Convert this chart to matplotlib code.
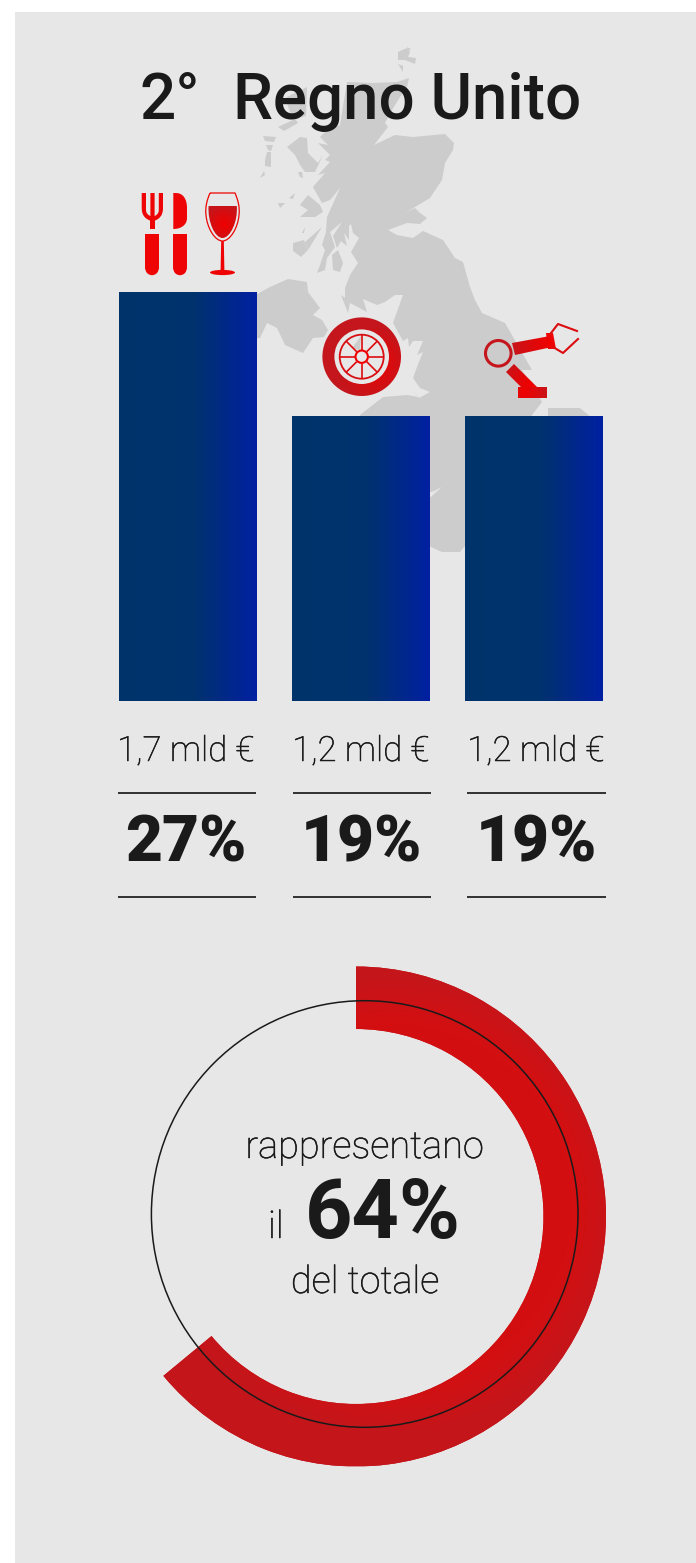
import numpy as np
import matplotlib
matplotlib.use('Agg')
import matplotlib.pyplot as plt
import matplotlib.patheffects as pe
from matplotlib.colors import LinearSegmentedColormap
from matplotlib.patches import Circle, Ellipse, PathPatch, Polygon, Rectangle, Wedge
from matplotlib.path import Path

plt.rcParams['font.family'] = ['Roboto', 'DejaVu Sans']

# data
bar_values = [1.70, 1.185, 1.185]
value_labels = ['1,7 mld €', '1,2 mld €', '1,2 mld €']
share_labels = ['27%', '19%', '19%']
donut_values = [64, 36]

W, H = 696, 1563
BG = '#e7e7e7'
INK = '#1a1a1a'
MAP = '#cccccc'
RED = '#ee0404'
DARK = '#c4161c'

blue = LinearSegmentedColormap.from_list('blue', [(0, '#00346a'), (0.55, '#00326e'), (1, '#0020a2')])
donut_red = LinearSegmentedColormap.from_list('dred', ['#d40f11', '#c4161b'])
icon_red = LinearSegmentedColormap.from_list('ired', ['#f00000', '#c4161c'])

fig = plt.figure(figsize=(W / 100, H / 100), dpi=100, facecolor='white')


def px_axes(x0, y0, x1, y1, z):
    a = fig.add_axes([x0 / W, 1 - y1 / H, (x1 - x0) / W, (y1 - y0) / H], zorder=z)
    a.axis('off')
    return a


back = px_axes(0, 0, W, H, 0)
back.set_xlim(0, W)
back.set_ylim(H, 0)
back.add_patch(Rectangle((15, 12), W - 15, H - 12, color=BG, lw=0))

# map of Great Britain, traced
main_land = [(347, 82), (373, 83), (397, 82), (409, 78), (407, 87), (400, 97), (392, 110), (385, 123), (388, 127),
             (374, 145), (395, 135), (413, 137), (445, 134), (454, 143), (453, 150), (445, 163), (442, 180),
             (430, 198), (405, 213), (415, 208), (420, 213), (427, 218), (420, 224), (407, 223), (388, 230),
             (397, 235), (413, 238), (423, 231), (443, 240), (455, 258), (463, 262), (470, 287), (475, 300),
             (482, 313), (505, 323), (532, 370), (522, 370), (542, 402), (532, 415), (540, 500), (464, 547),
             (460, 552), (442, 552), (429, 546), (400, 530), (360, 415), (383, 397), (407, 395), (418, 397),
             (412, 388), (419, 398), (430, 392), (420, 388), (413, 378), (417, 367), (423, 352), (417, 355),
             (423, 341), (413, 341), (409, 347), (408, 338), (403, 341), (393, 323), (403, 295), (415, 295),
             (395, 295), (385, 302), (377, 305), (363, 299), (367, 312), (350, 303), (348, 313), (341, 295),
             (345, 298), (345, 288), (350, 275), (358, 263), (351, 252), (359, 238), (353, 233), (351, 224),
             (349, 226), (349, 240), (344, 233), (347, 246), (341, 241), (337, 248), (333, 236), (342, 222),
             (330, 232), (335, 247), (327, 258), (325, 270), (317, 273), (320, 265), (325, 250), (322, 245),
             (326, 232), (327, 217), (340, 188), (330, 200), (322, 203), (313, 187), (325, 173), (318, 175),
             (330, 162), (325, 160), (330, 155), (318, 143), (328, 145), (320, 137), (327, 130), (340, 125)]
islands = [
    [(548, 408), (580, 408), (592, 418), (592, 440), (548, 440)],
    [(285, 98), (307, 87), (306, 116), (293, 120), (278, 127), (284, 131), (298, 123), (290, 112)],
    [(263, 136), (276, 137), (274, 142), (265, 141)],
    [(266, 145), (273, 145), (271, 151), (268, 150)],
    [(267, 152), (271, 152), (271, 167), (265, 166), (265, 160)],
    [(264, 171), (265, 175), (260, 178)],
    [(398, 52), (407, 48), (410, 52), (408, 57), (416, 58), (415, 64), (405, 60), (398, 60)],
    [(398, 64), (403, 66), (403, 72)],
    [(407, 47), (411, 49), (408, 51)],
    [(287, 147), (300, 137), (307, 138), (308, 153), (318, 163), (323, 155), (315, 172), (305, 172), (300, 165),
     (295, 155)],
    [(298, 172), (302, 172), (303, 178), (300, 177)],
    [(300, 217), (308, 210), (300, 205), (308, 195), (320, 205), (323, 212), (315, 217)],
    [(278, 203), (285, 203), (280, 208)],
    [(289, 198), (295, 193), (293, 199)],
    [(293, 243), (304, 240), (308, 250), (301, 257), (293, 251)],
    [(305, 242), (322, 227), (308, 250)],
    [(302, 233), (305, 227), (304, 233)],
    [(332, 255), (338, 250), (343, 263), (340, 272), (333, 270)],
    [(250, 298), (270, 287), (288, 279), (307, 282), (308, 292), (320, 308), (313, 315), (322, 320), (328, 330),
     (324, 337), (313, 338), (303, 353), (285, 345), (277, 328), (267, 323), (260, 338), (250, 338)],
    [(361, 336), (360, 350), (352, 348)],
]
back.add_patch(Polygon(main_land, closed=True, color=MAP, lw=0))
for isl in islands:
    back.add_patch(Polygon(isl, closed=True, color=MAP, lw=0))
back.add_patch(Polygon([(425, 502), (442, 487), (434, 491), (425, 494)], closed=True, color=BG, lw=0))

# bars
ax = px_axes(100.9, 292, 619.9, 701, 1)
rects = ax.bar(range(len(bar_values)), bar_values, width=137.2 / 173, color='#00346a', zorder=1)
grad = np.linspace(0, 1, 256).reshape(1, -1)
for r in rects:
    im = ax.imshow(grad, cmap=blue, aspect='auto', vmin=0, vmax=1, zorder=2,
                   extent=(r.get_x(), r.get_x() + r.get_width(), 0, r.get_height()))
    im.set_clip_path(r)
ax.set_xlim(-0.5, 2.5)
ax.set_ylim(0, 1.7)

# donut
dax = px_axes(106, 966.5, 606, 1466.5, 1)
wedges, _ = dax.pie(donut_values, startangle=90, counterclock=False, radius=1,
                    colors=[DARK, 'none'], wedgeprops={'width': 0.25, 'linewidth': 0})
xx, yy = np.meshgrid(np.linspace(-1, 1, 500), np.linspace(1, -1, 500))
dist = np.hypot(xx - 0.15, yy - 0.05)
im = dax.imshow(np.clip((dist - 0.72) / 0.2, 0, 1), cmap=donut_red, extent=(-1, 1, -1, 1), aspect='auto',
                vmin=0, vmax=1, zorder=5)
im.set_clip_path(wedges[0])
dax.set_xlim(-1, 1)
dax.set_ylim(-1, 1)

top = px_axes(0, 0, W, H, 2)
top.set_xlim(0, W)
top.set_ylim(H, 0)
top.add_patch(Circle((364.7, 1214), 213.3, fill=False, ec=INK, lw=1.1))


def radial(patch, cx, cy, rad):
    # red fill, brighter in the middle of the shape
    half = rad * 1.5
    x = np.linspace(cx - half, cx + half, 160)
    y = np.linspace(cy - half, cy + half, 160)
    gx, gy = np.meshgrid(x, y)
    img = top.imshow(np.hypot(gx - cx, gy - cy) / rad, cmap=icon_red, vmin=0, vmax=1, aspect='auto',
                     extent=(cx - half, cx + half, cy + half, cy - half), zorder=3)
    top.add_patch(patch)
    patch.set_visible(False)
    img.set_clip_path(patch)


# fork and knife
C3 = Path.CURVE4
L = Path.LINETO
M = Path.MOVETO
fork_v = [(141.7, 193), (141.7, 208), (141.7, 216), (146, 219), (150, 220.5), (150, 229), (155, 229), (155, 220.5),
          (159, 219), (163, 216), (163, 208), (163, 193), (158.8, 193), (158.8, 210), (158.8, 213), (157, 215),
          (154.6, 216), (154.6, 193), (150.4, 193), (150.4, 216), (148, 215), (146, 213), (146, 210), (146, 193),
          (141.7, 193)]
fork_c = [M, L, C3, C3, C3, L, L, L, C3, C3, C3, L, L, L, C3, C3, C3, L, L, L, C3, C3, C3, L, Path.CLOSEPOLY]
top.add_patch(PathPatch(Path(fork_v, fork_c), fc=RED, lw=0))
knife_v = [(173.3, 193), (176, 193), (183, 193), (187, 199), (187, 208), (187, 218), (187, 225), (181, 229), (173.3, 229),
           (173.3, 193)]
knife_c = [M, L, C3, C3, C3, L, C3, C3, C3, Path.CLOSEPOLY]
top.add_patch(PathPatch(Path(knife_v, knife_c), fc=RED, lw=0))
for hx in [145.3, 173.3]:
    top.add_patch(Rectangle((hx, 234), 13.4, 34.5, fc=RED, lw=0))
    top.add_patch(Circle((hx + 6.7, 268.5), 6.7, fc=RED, lw=0))

# wine glass
bowl_v = [(210, 193), (235, 193), (238, 200), (240, 207), (239, 215), (238, 228), (230, 241), (222.5, 241), (215, 241),
          (207, 228), (206, 215), (205, 207), (207, 200), (210, 193)]
bowl_c = [M, L, C3, C3, C3, C3, C3, C3, C3, C3, C3, C3, C3, C3]
top.add_patch(PathPatch(Path(bowl_v, bowl_c), fc='none', ec=RED, lw=0.9))
wine_v = [(208.6, 206), (236.8, 206), (238, 222), (230, 238), (222.5, 238), (215, 238), (207.5, 222), (208.6, 206)]
wine_c = [M, L, C3, C3, C3, C3, C3, C3]
radial(PathPatch(Path(wine_v, wine_c), fc=RED, lw=0), 224, 224, 20)
top.add_patch(Polygon([(221.2, 241), (223.8, 241), (224.4, 270), (220.6, 270)], closed=True, fc=RED, lw=0))
top.add_patch(Ellipse((222.5, 272.5), 25, 5.2, fc=RED, lw=0))

# wheel
wx, wy = 361.7, 356.7
radial(Wedge((wx, wy), 39.3, 0, 360, width=12, lw=0), wx + 10, wy + 6, 36)
top.add_patch(Circle((wx, wy), 22, fill=False, ec='#d80e12', lw=1.3))
top.add_patch(Circle((wx, wy), 6.2, fill=False, ec='#f00000', lw=1.5))
for ang in np.radians(np.arange(0, 360, 45)):
    top.plot([wx + 7 * np.cos(ang), wx + 22 * np.cos(ang)], [wy + 7 * np.sin(ang), wy + 22 * np.sin(ang)],
             color='#dd0a0e', lw=1.2, solid_capstyle='butt')

# robot arm
top.add_patch(Circle((498.3, 353.3), 12.8, fill=False, ec=DARK, lw=2.2))
radial(Polygon([(512, 343), (550, 336), (552, 347), (515, 355)], closed=True, lw=0), 550, 342, 42)
top.add_patch(Polygon([(546, 333), (553, 333), (556, 349), (548, 349)], closed=True, fc=RED, lw=0))
top.plot([551, 558, 577], [333, 324, 331], color='#dc0c10', lw=1.5)
top.plot([553, 563, 578], [347, 353, 339], color='#dc0c10', lw=1.5)
radial(Polygon([(506, 372), (514, 364), (538, 388), (522, 388)], closed=True, lw=0), 530, 384, 32)
radial(Rectangle((518, 387), 29, 11, lw=0), 524, 392, 26)

# texts
thicker = [pe.withStroke(linewidth=0.35, foreground=INK)]
top.text(139.5, 119, '2°', fontsize=45.8, fontweight='medium', color=INK, ha='left', va='baseline')
top.text(233, 119, 'Regno Unito', fontsize=45.8, fontweight='medium', color=INK, ha='left', va='baseline')

val_x = [186, 361, 536]
rule_x = [(118, 255.7), (292.5, 430.5), (467, 605.5)]
for i in range(3):
    top.text(val_x[i], 761, value_labels[i], fontsize=25, fontweight='light', color=INK, ha='center',
             va='baseline', path_effects=thicker)
    top.text(val_x[i], 861, share_labels[i], fontsize=46, fontweight='black', color=INK, ha='center', va='baseline')
    for ry in [792.7, 897]:
        top.plot(rule_x[i], [ry, ry], color='#222222', lw=1.3, solid_capstyle='butt')

top.text(364.5, 1158, 'rappresentano', fontsize=27.3, fontweight='light', color=INK, ha='center', va='baseline',
         path_effects=thicker)
top.text(268, 1238, 'il', fontsize=27.3, fontweight='light', color=INK, ha='left', va='baseline', path_effects=thicker)
top.text(305, 1238, '64%', fontsize=59.5, fontweight='bold', color=INK, ha='left', va='baseline')
top.text(365, 1293, 'del totale', fontsize=27.3, fontweight='light', color=INK, ha='center', va='baseline',
         path_effects=thicker)
top.set_xlim(0, W)
top.set_ylim(H, 0)

fig.savefig('out.png', dpi=100)
